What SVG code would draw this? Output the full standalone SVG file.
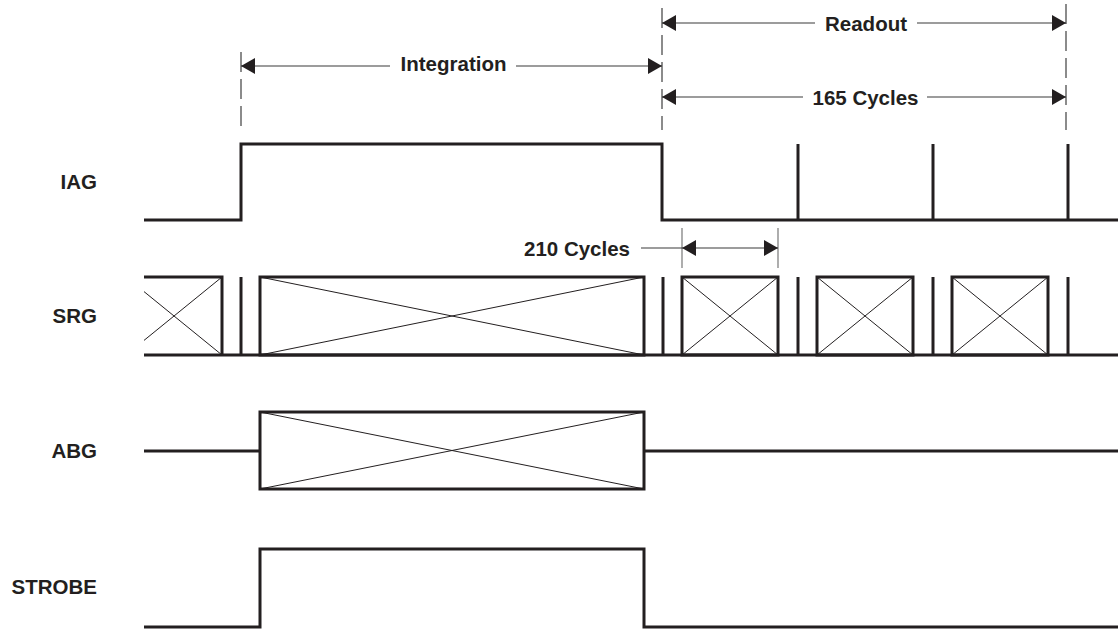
<svg xmlns="http://www.w3.org/2000/svg" width="1118" height="630" viewBox="0 0 1118 630">
<defs>
<style>
.sig{fill:none;stroke:#231f20;stroke-width:3;stroke-linejoin:miter;stroke-linecap:butt}
.x{fill:none;stroke:#231f20;stroke-width:1}
.dim{fill:none;stroke:#3a3a3a;stroke-width:1.2}
.dash{fill:none;stroke:#666;stroke-width:1.5;stroke-dasharray:20 7}
.tick{fill:none;stroke:#777;stroke-width:1.2}
.lbl{font-family:"Liberation Sans",Arial,sans-serif;font-weight:bold;font-size:20.5px;fill:#231f20}
</style>
<marker id="ah" viewBox="0 0 14 16" refX="14" refY="8" markerWidth="14" markerHeight="16" markerUnits="userSpaceOnUse" orient="auto-start-reverse">
<path d="M0,0 L14,8 L0,16 z" fill="#231f20"/>
</marker>
</defs>
<rect width="1118" height="630" fill="#fff"/>

<g id="connectors">
<line class="dash" x1="241" y1="52" x2="241" y2="130"/>
<line class="dash" x1="662" y1="8" x2="662" y2="130"/>
<line class="dash" x1="1066" y1="4" x2="1066" y2="130"/>
<line class="dim" x1="241" y1="66" x2="390" y2="66" marker-start="url(#ah)"/>
<line class="dim" x1="516" y1="66" x2="662" y2="66" marker-end="url(#ah)"/>
<line class="dim" x1="662" y1="23" x2="815" y2="23" marker-start="url(#ah)"/>
<line class="dim" x1="917" y1="23" x2="1066" y2="23" marker-end="url(#ah)"/>
<line class="dim" x1="662" y1="97" x2="803" y2="97" marker-start="url(#ah)"/>
<line class="dim" x1="927" y1="97" x2="1066" y2="97" marker-end="url(#ah)"/>
<line class="tick" x1="682" y1="228" x2="682" y2="268"/>
<line class="tick" x1="778" y1="228" x2="778" y2="268"/>
<line class="dim" x1="641" y1="248" x2="682" y2="248"/>
<line class="dim" x1="682" y1="248" x2="778" y2="248" marker-start="url(#ah)" marker-end="url(#ah)"/>
</g>

<g id="annotations">
<text class="lbl" x="453.5" y="71" text-anchor="middle">Integration</text>
<text class="lbl" x="866" y="31" text-anchor="middle">Readout</text>
<text class="lbl" x="865.5" y="105" text-anchor="middle">165 Cycles</text>
<text class="lbl" x="630" y="256" text-anchor="end">210 Cycles</text>
</g>

<g id="IAG">
<text class="lbl" x="97" y="189" text-anchor="end">IAG</text>
<path class="sig" d="M144,220 H241 V144 H662 V220 H1118"/>
<line class="sig" x1="798" y1="144" x2="798" y2="220"/>
<line class="sig" x1="933" y1="144" x2="933" y2="220"/>
<line class="sig" x1="1068" y1="144" x2="1068" y2="220"/>
</g>

<g id="SRG">
<text class="lbl" x="97" y="323" text-anchor="end">SRG</text>
<line class="sig" x1="144" y1="355" x2="1118" y2="355"/>
<path class="sig" d="M144,277 H222 V355"/>
<line class="x" x1="222" y1="277" x2="144" y2="340.4"/>
<line class="x" x1="222" y1="355" x2="144" y2="291.6"/>
<line class="sig" x1="241" y1="277" x2="241" y2="355"/>
<rect class="sig" x="260" y="277" width="384" height="78"/>
<path class="x" d="M260,277 L644,355 M260,355 L644,277"/>
<line class="sig" x1="663" y1="277" x2="663" y2="355"/>
<rect class="sig" x="682" y="277" width="96" height="78"/>
<path class="x" d="M682,277 L778,355 M682,355 L778,277"/>
<line class="sig" x1="798" y1="277" x2="798" y2="355"/>
<rect class="sig" x="817" y="277" width="96" height="78"/>
<path class="x" d="M817,277 L913,355 M817,355 L913,277"/>
<line class="sig" x1="933" y1="277" x2="933" y2="355"/>
<rect class="sig" x="952" y="277" width="96" height="78"/>
<path class="x" d="M952,277 L1048,355 M952,355 L1048,277"/>
<line class="sig" x1="1068" y1="277" x2="1068" y2="355"/>
</g>

<g id="ABG">
<text class="lbl" x="97" y="458" text-anchor="end">ABG</text>
<line class="sig" x1="144" y1="451" x2="260" y2="451"/>
<rect class="sig" x="260" y="412" width="384" height="77"/>
<path class="x" d="M260,412 L644,489 M260,489 L644,412"/>
<line class="sig" x1="644" y1="451" x2="1118" y2="451"/>
</g>

<g id="STROBE">
<text class="lbl" x="97" y="594" text-anchor="end">STROBE</text>
<path class="sig" d="M144,627 H260 V549 H644 V627 H1118"/>
</g>
</svg>
